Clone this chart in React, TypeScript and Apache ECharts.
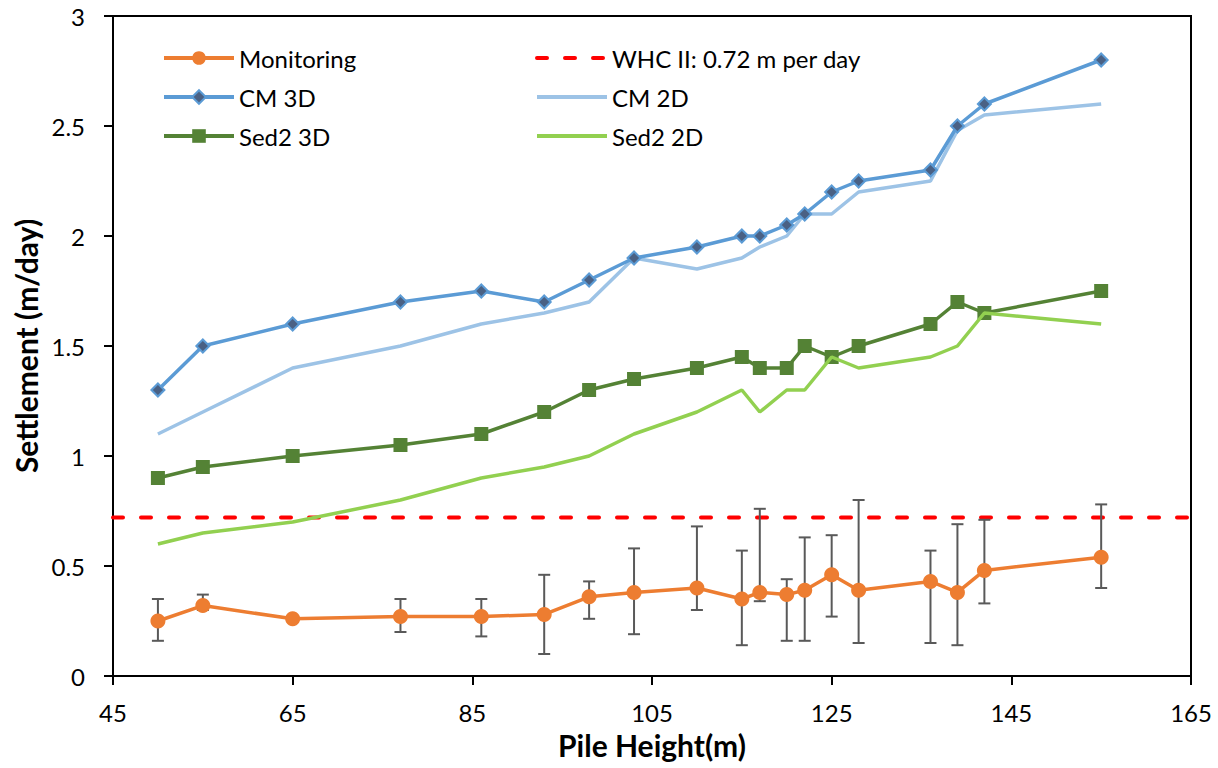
import React, { useEffect, useRef } from "react";
import * as echarts from "echarts";

const heights = [50, 55, 65, 77, 86, 93, 98, 103, 110, 115, 117, 120, 122, 125, 128, 136, 139, 142, 155];
const monitoring = [0.25, 0.32, 0.26, 0.27, 0.27, 0.28, 0.36, 0.38, 0.4, 0.35, 0.38, 0.37, 0.39, 0.46, 0.39, 0.43, 0.38, 0.48, 0.54];
const errLow = [0.16, 0.3, 0.25, 0.2, 0.18, 0.1, 0.26, 0.19, 0.3, 0.14, 0.34, 0.16, 0.16, 0.27, 0.15, 0.15, 0.14, 0.33, 0.4];
const errHigh = [0.35, 0.37, 0.27, 0.35, 0.35, 0.46, 0.43, 0.58, 0.68, 0.57, 0.76, 0.44, 0.63, 0.64, 0.8, 0.57, 0.69, 0.71, 0.78];
const cm3d = [1.3, 1.5, 1.6, 1.7, 1.75, 1.7, 1.8, 1.9, 1.95, 2.0, 2.0, 2.05, 2.1, 2.2, 2.25, 2.3, 2.5, 2.6, 2.8];
const cm2d = [1.1, 1.2, 1.4, 1.5, 1.6, 1.65, 1.7, 1.9, 1.85, 1.9, 1.95, 2.0, 2.1, 2.1, 2.2, 2.25, 2.48, 2.55, 2.6];
const sed3d = [0.9, 0.95, 1.0, 1.05, 1.1, 1.2, 1.3, 1.35, 1.4, 1.45, 1.4, 1.4, 1.5, 1.45, 1.5, 1.6, 1.7, 1.65, 1.75];
const sed2d = [0.6, 0.65, 0.7, 0.8, 0.9, 0.95, 1.0, 1.1, 1.2, 1.3, 1.2, 1.3, 1.3, 1.45, 1.4, 1.45, 1.5, 1.65, 1.6];
const whcValue = 0.72;
const whcRange = [45, 165];
const xTicks = [45, 65, 85, 105, 125, 145, 165];

const FONT = "Lato";

export default function App() {
  const ref = useRef<HTMLDivElement>(null);
  useEffect(() => {
    if (!ref.current) return;
    const chart = echarts.init(ref.current, undefined, { renderer: "svg" });
    const pair = (ys: number[]) => heights.map((x, i) => [x, ys[i]]);
    const errData = heights.map((x, i) => [x, errLow[i], errHigh[i]]);
    const lineOnly = (name: string) => ({ name, itemStyle: { opacity: 0 } });
    const legendBase = {
      top: 46,
      orient: "vertical",
      padding: 0,
      itemWidth: 70,
      itemHeight: 17,
      itemGap: 15,
      lineStyle: { width: 4 },
      textStyle: { fontSize: 24, color: "#000", fontFamily: FONT, lineHeight: 24 },
    };
    chart.setOption({
      animation: false,
      backgroundColor: "#fff",
      textStyle: { fontFamily: FONT },
      grid: {
        left: 113,
        right: 27,
        top: 16,
        bottom: 92,
        show: true,
        borderColor: "#000",
        borderWidth: 2,
      },
      legend: [
        { ...legendBase, left: 162, data: ["Monitoring", "CM 3D", "Sed2 3D"] },
        {
          ...legendBase,
          left: 535,
          data: [lineOnly("WHC II: 0.72 m per day"), lineOnly("CM 2D"), lineOnly("Sed2 2D")],
        },
      ],
      xAxis: {
        type: "value",
        min: 45,
        max: 165,
        name: "Pile Height(m)",
        nameLocation: "middle",
        nameGap: 54,
        nameTextStyle: { fontSize: 30, fontWeight: "bold", color: "#000", fontFamily: FONT },
        axisLine: { show: true, lineStyle: { color: "#000", width: 2 } },
        axisTick: { show: true, inside: false, length: 9, lineStyle: { color: "#000", width: 2 }, customValues: xTicks },
        axisLabel: { fontSize: 24, color: "#000", margin: 24, fontFamily: FONT, customValues: xTicks },
        splitLine: { show: false },
      },
      yAxis: {
        type: "value",
        min: 0,
        max: 3,
        interval: 0.5,
        name: "Settlement (m/day)",
        nameLocation: "middle",
        nameGap: 66,
        nameTextStyle: { fontSize: 30, fontWeight: "bold", color: "#000", fontFamily: FONT },
        axisLine: { show: true, lineStyle: { color: "#000", width: 2 } },
        axisTick: { show: true, inside: false, length: 9, lineStyle: { color: "#000", width: 2 } },
        axisLabel: { fontSize: 24, color: "#000", margin: 28, fontFamily: FONT },
        splitLine: { show: false },
      },
      series: [
        {
          name: "WHC II: 0.72 m per day",
          type: "line",
          data: whcRange.map((x) => [x, whcValue]),
          symbol: "none",
          lineStyle: { color: "#FF0000", width: 4, type: [10, 18], cap: "round" },
          itemStyle: { color: "#FF0000" },
          z: 2,
        },
        {
          name: "CM 2D",
          type: "line",
          data: pair(cm2d),
          symbol: "none",
          lineStyle: { color: "#9DC3E6", width: 3.5 },
          itemStyle: { color: "#9DC3E6" },
          z: 3,
        },
        {
          name: "CM 3D",
          type: "line",
          data: pair(cm3d),
          symbol: "diamond",
          symbolSize: 13,
          lineStyle: { color: "#5B9BD5", width: 3.5 },
          itemStyle: { color: "#4A6184", borderColor: "#5B9BD5", borderWidth: 2 },
          z: 4,
        },
        {
          name: "Sed2 3D",
          type: "line",
          data: pair(sed3d),
          symbol: "rect",
          symbolSize: 14,
          lineStyle: { color: "#548235", width: 3.5 },
          itemStyle: { color: "#548235" },
          z: 4,
        },
        {
          name: "Sed2 2D",
          type: "line",
          data: pair(sed2d),
          symbol: "none",
          lineStyle: { color: "#92D050", width: 3.5 },
          itemStyle: { color: "#92D050" },
          z: 5,
        },
        {
          name: "errors",
          type: "custom",
          data: errData,
          encode: { x: 0, y: [1, 2] },
          z: 6,
          renderItem: (params: any, api: any) => {
            const x = api.value(0);
            const lo = api.coord([x, api.value(1)]);
            const hi = api.coord([x, api.value(2)]);
            const w = 6;
            const st = { stroke: "#595959", lineWidth: 2 };
            return {
              type: "group",
              children: [
                { type: "line", shape: { x1: lo[0], y1: lo[1], x2: hi[0], y2: hi[1] }, style: st },
                { type: "line", shape: { x1: lo[0] - w, y1: lo[1], x2: lo[0] + w, y2: lo[1] }, style: st },
                { type: "line", shape: { x1: hi[0] - w, y1: hi[1], x2: hi[0] + w, y2: hi[1] }, style: st },
              ],
            };
          },
        },
        {
          name: "Monitoring",
          type: "line",
          data: pair(monitoring),
          symbol: "circle",
          symbolSize: 15,
          lineStyle: { color: "#ED7D31", width: 3.5 },
          itemStyle: { color: "#ED7D31" },
          z: 7,
        },
      ],
    });
    return () => chart.dispose();
  }, []);
  return <div ref={ref} style={{ width: 1218, height: 768, position: "absolute", left: 0, top: 0 }} />;
}
